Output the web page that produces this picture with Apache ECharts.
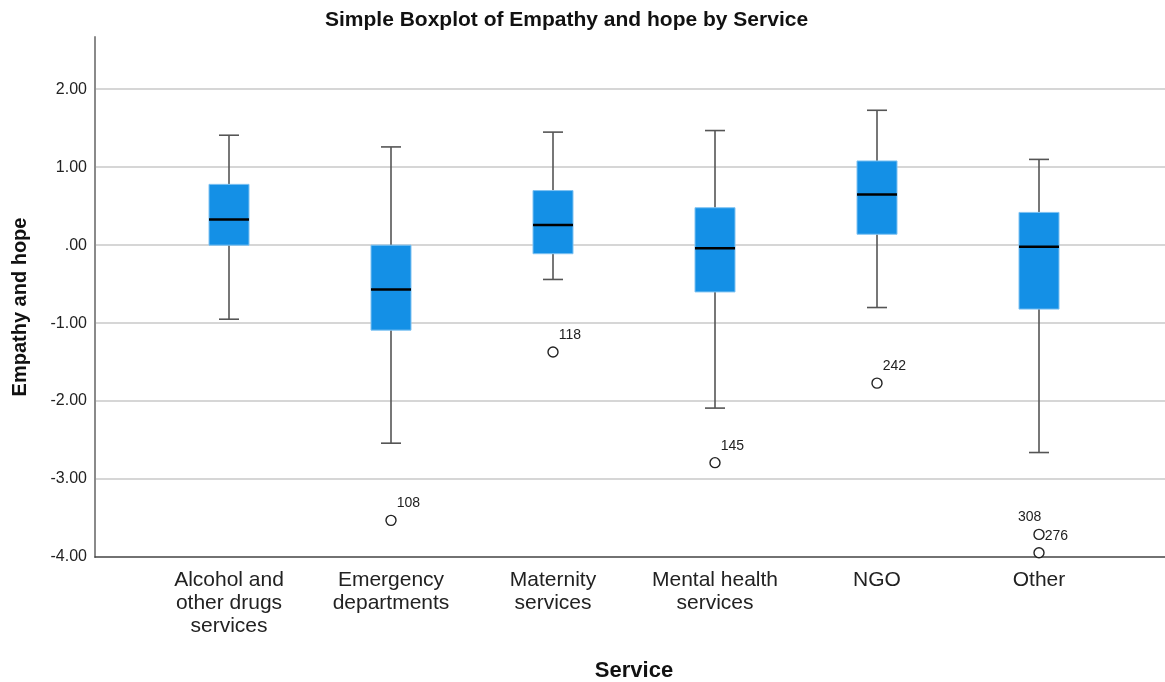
<!DOCTYPE html>
<html>
<head>
<meta charset="utf-8">
<script src="https://cdn.jsdelivr.net/npm/echarts@6/dist/echarts.min.js"></script>
<style>html,body{margin:0;padding:0;background:#fff;}#c{width:1165px;height:682px;}</style>
</head>
<body>
<div id="c"></div>
<script>
const categories = ['Alcohol and\nother drugs\nservices', 'Emergency\ndepartments', 'Maternity\nservices', 'Mental health\nservices', 'NGO', 'Other'];
const whiskerLow = [-0.95, -2.54, -0.44, -2.09, -0.80, -2.66];
const q1 = [0.00, -1.09, -0.11, -0.60, 0.14, -0.82];
const median = [0.33, -0.57, 0.26, -0.04, 0.65, -0.02];
const q3 = [0.78, 0.00, 0.70, 0.48, 1.08, 0.42];
const whiskerHigh = [1.41, 1.26, 1.45, 1.47, 1.73, 1.10];
const outlierCat = [1, 2, 3, 4, 5, 5];
const outlierVal = [-3.53, -1.37, -2.79, -1.77, -3.71, -3.945];
const outlierId = ['108', '118', '145', '242', '308', '276'];

const FONT = "'Liberation Sans', Arial, sans-serif";
const boxData = categories.map((c, i) => [i, whiskerLow[i], q1[i], median[i], q3[i], whiskerHigh[i]]);
const outData = outlierId.map((id, i) => {
  const d = { name: id, value: [outlierCat[i], outlierVal[i]] };
  if (id === '308') {
    d.label = { position: 'left', offset: [13, -17] };
  }
  return d;
});

const chart = echarts.init(document.getElementById('c'), null, { renderer: 'canvas' });
chart.setOption({
  backgroundColor: '#fff',
  animation: false,
  title: {
    text: 'Simple Boxplot of Empathy and hope by Service',
    left: 320, top: 5,
    textStyle: { fontFamily: FONT, fontSize: 21, fontWeight: 'bold', color: '#111' }
  },
  grid: [
    { left: 95, right: 0, top: 37, bottom: 125, outerBoundsMode: 'none', containLabel: false },
    { left: 148, width: 972, top: 37, bottom: 125, outerBoundsMode: 'none', containLabel: false }
  ],
  xAxis: [
    { gridIndex: 0, type: 'value', min: 0, max: 1,
      axisLine: { show: true, onZero: false, lineStyle: { color: '#444', width: 1.5 } },
      axisTick: { show: false }, axisLabel: { show: false }, splitLine: { show: false } },
    { gridIndex: 1, type: 'category', data: categories,
      axisLine: { show: false }, axisTick: { show: false }, splitLine: { show: false },
      axisLabel: { fontFamily: FONT, fontSize: 21, lineHeight: 23, color: '#222', margin: 12, interval: 0 },
      name: 'Service', nameLocation: 'middle', nameGap: 103,
      nameTextStyle: { fontFamily: FONT, fontSize: 22, fontWeight: 'bold', color: '#111' } }
  ],
  yAxis: [
    { gridIndex: 0, type: 'value', min: -4, max: 2.67, interval: 1,
      axisLine: { show: true, lineStyle: { color: '#8a8a8a', width: 2 } },
      axisTick: { show: false },
      axisLabel: { fontFamily: FONT, fontSize: 16, color: '#222', margin: 8, showMaxLabel: false,
        formatter: v => { const s = v.toFixed(2); return s === '0.00' ? '.00' : s; } },
      splitLine: { show: true, showMaxLine: false, showMinLine: false, lineStyle: { color: '#c8c8c8', width: 1.5 } },
      name: 'Empathy and hope', nameLocation: 'middle', nameGap: 65, nameRotate: 90,
      nameTextStyle: { fontFamily: FONT, fontSize: 20, fontWeight: 'bold', color: '#111', padding: [0, 20, 0, 0] } },
    { gridIndex: 1, type: 'value', min: -4, max: 2.67, show: false, splitLine: { show: false } }
  ],
  series: [
    {
      type: 'custom', xAxisIndex: 1, yAxisIndex: 1, data: boxData,
      encode: { x: 0, y: [1, 2, 3, 4, 5] },
      renderItem: function (params, api) {
        const x = api.value(0);
        const pLow = api.coord([x, api.value(1)]);
        const pQ1 = api.coord([x, api.value(2)]);
        const pMed = api.coord([x, api.value(3)]);
        const pQ3 = api.coord([x, api.value(4)]);
        const pHigh = api.coord([x, api.value(5)]);
        const cx = pLow[0];
        const bw = 40, cw = 20;
        const wStyle = { stroke: '#555', lineWidth: 1.6 };
        return {
          type: 'group',
          children: [
            { type: 'line', shape: { x1: cx, y1: pLow[1], x2: cx, y2: pQ1[1] }, style: wStyle },
            { type: 'line', shape: { x1: cx, y1: pQ3[1], x2: cx, y2: pHigh[1] }, style: wStyle },
            { type: 'line', shape: { x1: cx - cw / 2, y1: pLow[1], x2: cx + cw / 2, y2: pLow[1] }, style: wStyle },
            { type: 'line', shape: { x1: cx - cw / 2, y1: pHigh[1], x2: cx + cw / 2, y2: pHigh[1] }, style: wStyle },
            { type: 'rect', shape: { x: cx - bw / 2, y: pQ3[1], width: bw, height: pQ1[1] - pQ3[1] },
              style: { fill: '#1490e6', stroke: '#7ec2f2', lineWidth: 1 } },
            { type: 'line', shape: { x1: cx - bw / 2, y1: pMed[1], x2: cx + bw / 2, y2: pMed[1] },
              style: { stroke: '#000', lineWidth: 2.5 } }
          ]
        };
      }
    },
    {
      type: 'scatter', xAxisIndex: 1, yAxisIndex: 1, data: outData,
      symbol: 'circle', symbolSize: 10,
      itemStyle: { color: '#fff', borderColor: '#222', borderWidth: 1.4, opacity: 1 },
      label: { show: true, formatter: p => p.name, position: 'right', offset: [-5, -17],
        fontFamily: FONT, fontSize: 14, color: '#222' }
    }
  ]
});
</script>
</body>
</html>
